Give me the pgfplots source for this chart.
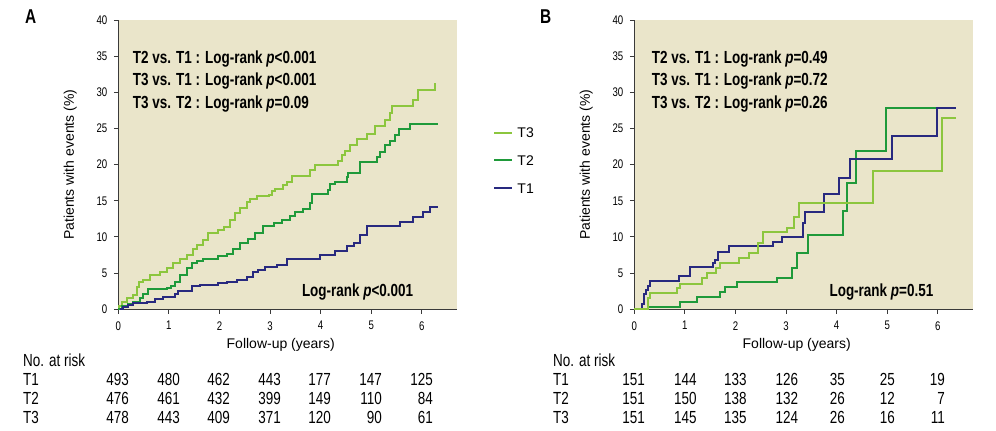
\documentclass[border=0pt]{standalone}
\usepackage{fontspec}
\setmainfont{Liberation Sans}
\newfontfamily\cond[FakeStretch=0.77]{Liberation Sans}
\usepackage{pgfplots}
\pgfplotsset{compat=1.18}

\definecolor{bgcol}{HTML}{EAE5CA}
\definecolor{tthree}{HTML}{8CC63E}
\definecolor{ttwo}{HTML}{1F9A3A}
\definecolor{tone}{HTML}{28297F}
\definecolor{axcol}{HTML}{3A3A3A}

\pgfplotsset{
  kmaxis/.style={
    scale only axis,
    width=338.4pt, height=289.3pt,
    xmin=0, xmax=6.69, ymin=0, ymax=40,
    xtick={0,1,2,3,4,5,6}, ytick={0,5,...,40},
    axis x line*=bottom, axis y line*=left,
    axis line style={axcol, line width=1.4pt},
    tick style={axcol, line width=1pt},
    tick align=outside, major tick length=4.5pt,
    axis background/.style={fill=bgcol},
    /pgf/number format/assume math mode=true,
    ticklabel style={font=\cond\fontsize{12.5}{13}\selectfont},
    xticklabel style={yshift=-4pt},
    yticklabel style={xshift=-3pt},
    xlabel={Follow-up (years)},
    ylabel={Patients with events (\%)},
    every axis x label/.style={at={(axis description cs:0.48,0)}, yshift=-36pt,
      anchor=center, font=\fontsize{14}{15}\selectfont},
    every axis y label/.style={at={(axis description cs:0,0.5)}, xshift=-48pt,
      rotate=90, anchor=center, font=\fontsize{14}{14}\selectfont},
    clip=false,
  },
  km/.style={const plot, line width=2pt, line join=miter},
}

\newcommand{\ann}{\bfseries\cond\fontsize{17.5}{18}\selectfont}

\begin{document}
\begin{tikzpicture}
\useasboundingbox (0,0) rectangle (996pt,431pt);

% ---------------- panel A ----------------
\begin{axis}[kmaxis, at={(118.3pt,121.7pt)}, anchor=south west,
  legend style={draw=none, fill=none, at={(axis description cs:1.108,0.6284)},
    anchor=north west, inner sep=0pt, font=\fontsize{14}{14}\selectfont,
    row sep=17.7pt, nodes={inner sep=0pt, text height=10pt, text depth=0pt},
    /tikz/every odd column/.append style={column sep=4pt}},
  legend cell align=left,
  legend image code/.code={\draw[#1] (0pt,0pt) -- (18pt,0pt);},
]
\addlegendimage{color=tthree, line width=2pt}
\addlegendentry{T3}
\addlegendimage{color=ttwo, line width=2pt}
\addlegendentry{T2}
\addlegendimage{color=tone, line width=2pt}
\addlegendentry{T1}

\addplot[km, tthree, forget plot] coordinates {
 (0,0)(0.02,0.5)(0.066,1.06)(0.165,1.5)(0.297,2.0)(0.36,3.1)(0.40,3.8)(0.49,4.0)
 (0.63,4.7)(0.82,5.2)(0.96,5.7)(1.09,6.4)(1.22,7.0)(1.35,7.5)(1.48,8.4)(1.55,8.9)
 (1.68,9.6)(1.78,10.5)(1.98,11.0)(2.08,11.4)(2.21,12.3)(2.31,13.3)(2.41,14.0)
 (2.54,14.9)(2.60,15.2)(2.74,15.7)(2.97,15.8)(3.03,16.3)(3.10,16.7)(3.26,17.2)
 (3.33,17.6)(3.43,18.4)(3.79,19.2)(3.89,19.9)(4.35,20.5)(4.42,21.3)(4.48,21.9)
 (4.58,22.7)(4.71,23.5)(4.91,24.3)(5.08,25.3)(5.27,26.2)(5.37,27.1)(5.41,28.1)
 (5.83,29.0)(5.93,30.3)(6.27,31.3)
};
\addplot[km, ttwo, forget plot] coordinates {
 (0,0)(0.066,0.4)(0.20,0.8)(0.30,1.06)(0.43,1.5)(0.49,2.1)(0.59,2.8)(0.96,3.0)
 (1.05,3.2)(1.12,3.8)(1.22,4.7)(1.35,5.7)(1.45,6.4)(1.55,6.7)(1.68,7.0)(1.98,7.4)
 (2.14,7.6)(2.27,8.4)(2.41,9.2)(2.57,9.7)(2.70,10.5)(2.87,11.5)(3.07,12.0)
 (3.23,12.3)(3.39,12.9)(3.49,13.5)(3.66,13.8)(3.79,14.7)(3.82,16.0)(4.15,16.5)
 (4.19,17.3)(4.28,17.6)(4.52,18.3)(4.55,18.9)(4.78,20.3)(5.11,21.1)(5.17,21.8)
 (5.27,22.7)(5.37,23.3)(5.47,24.1)(5.54,24.9)(5.77,25.6)(6.33,25.6)
};
\addplot[km, tone, forget plot] coordinates {
 (0.03,0)(0.10,0.37)(0.20,0.6)(0.30,0.83)(0.56,1.06)(0.73,1.38)(0.89,1.75)
 (1.12,2.07)(1.19,2.53)(1.45,3.2)(1.62,3.36)(1.98,3.6)(2.14,3.82)(2.34,4.06)
 (2.54,4.5)(2.67,5.2)(2.77,5.5)(2.90,5.9)(3.13,6.1)(3.33,7.0)(3.99,7.5)(4.28,8.1)
 (4.52,8.7)(4.65,9.2)(4.78,10.3)(4.91,11.5)(5.57,12.1)(5.83,12.8)(6.03,13.5)
 (6.16,14.2)(6.33,14.2)
};

\node[anchor=base west, font=\ann] at (axis cs:0.22,33.93) {T2 vs. T1 : Log-rank \textit{p}<0.001};
\node[anchor=base west, font=\ann] at (axis cs:0.22,30.88) {T3 vs. T1 : Log-rank \textit{p}<0.001};
\node[anchor=base west, font=\ann] at (axis cs:0.22,27.80) {T3 vs. T2 : Log-rank \textit{p}=0.09};
\node[anchor=base east, font=\ann] at (axis cs:5.90,1.74) {Log-rank \textit{p}<0.001};
\end{axis}

% ---------------- panel B ----------------
\begin{axis}[kmaxis, at={(634.3pt,121.7pt)}, anchor=south west]
\addplot[km, ttwo] coordinates {
 (0,0)(0.277,0.32)(0.90,1.0)(1.23,1.66)(1.70,2.35)(1.79,3.04)(2.03,3.78)(2.82,4.38)
 (3.11,5.67)(3.21,7.83)(3.44,10.3)(4.12,13.6)(4.21,17.5)(4.38,21.9)(4.97,27.9)(6.36,27.9)
};
\addplot[km, tone] coordinates {
 (0.146,0)(0.147,0.69)(0.20,2.07)(0.23,2.67)(0.28,3.22)(0.32,3.91)(0.89,4.6)(1.10,5.8)
 (1.55,6.36)(1.60,6.82)(1.65,7.97)(1.88,8.71)(2.75,9.27)(2.91,9.96)(3.34,11.9)
 (3.38,13.5)(3.75,15.9)(4.05,18.1)(4.26,20.8)(5.09,23.9)(5.99,27.8)(6.36,27.8)
};
\addplot[km, tthree] coordinates {
 (0,0)(0.28,1.52)(0.32,2.3)(0.84,3.0)(0.90,3.5)(1.33,4.28)(1.43,4.98)(1.62,5.67)
 (1.70,6.36)(2.07,7.05)(2.27,7.75)(2.45,9.22)(2.55,10.65)(3.02,11.3)(3.15,12.7)
 (3.26,14.7)(4.71,19.1)(6.08,26.5)(6.36,26.5)
};

\node[anchor=base west, font=\ann] at (axis cs:0.277,33.93) {T2 vs. T1 : Log-rank \textit{p}=0.49};
\node[anchor=base west, font=\ann] at (axis cs:0.277,30.88) {T3 vs. T1 : Log-rank \textit{p}=0.72};
\node[anchor=base west, font=\ann] at (axis cs:0.277,27.80) {T3 vs. T2 : Log-rank \textit{p}=0.26};
\node[anchor=base east, font=\ann] at (axis cs:5.98,1.74) {Log-rank \textit{p}=0.51};
\end{axis}

% panel letters
\node[anchor=base west, inner sep=0pt, font=\bfseries\cond\fontsize{20}{20}\selectfont] at (25pt,407pt) {A};
\node[anchor=base west, inner sep=0pt, font=\bfseries\cond\fontsize{20}{20}\selectfont] at (540pt,407pt) {B};

% numbers at risk
\begin{scope}[every node/.style={font=\cond\fontsize{17.5}{18}\selectfont, inner sep=0pt}]
\node[anchor=base west] at (23pt,64.3pt) {No. at risk};
\node[anchor=base west] at (23pt,45pt) {T1};
\node[anchor=base west] at (23pt,26pt) {T2};
\node[anchor=base west] at (23pt,7.7pt) {T3};
\foreach \x/\a/\b/\c in {129/493/476/478, 180/480/461/443, 230/462/432/409,
    281/443/399/371, 331/177/149/120, 382/147/110/90, 433/125/84/61} {
  \node[anchor=base east] at (\x pt,45pt) {\a};
  \node[anchor=base east] at (\x pt,26pt) {\b};
  \node[anchor=base east] at (\x pt,7.7pt) {\c};
}
\node[anchor=base west] at (553pt,64.3pt) {No. at risk};
\node[anchor=base west] at (553pt,45pt) {T1};
\node[anchor=base west] at (553pt,26pt) {T2};
\node[anchor=base west] at (553pt,7.7pt) {T3};
\foreach \x/\a/\b/\c in {645/151/151/151, 696.7/144/150/145, 746.7/133/138/135,
    798.3/126/132/124, 845/35/26/26, 895/25/12/16, 945/19/7/11} {
  \node[anchor=base east] at (\x pt,45pt) {\a};
  \node[anchor=base east] at (\x pt,26pt) {\b};
  \node[anchor=base east] at (\x pt,7.7pt) {\c};
}
\end{scope}
\end{tikzpicture}
\end{document}
